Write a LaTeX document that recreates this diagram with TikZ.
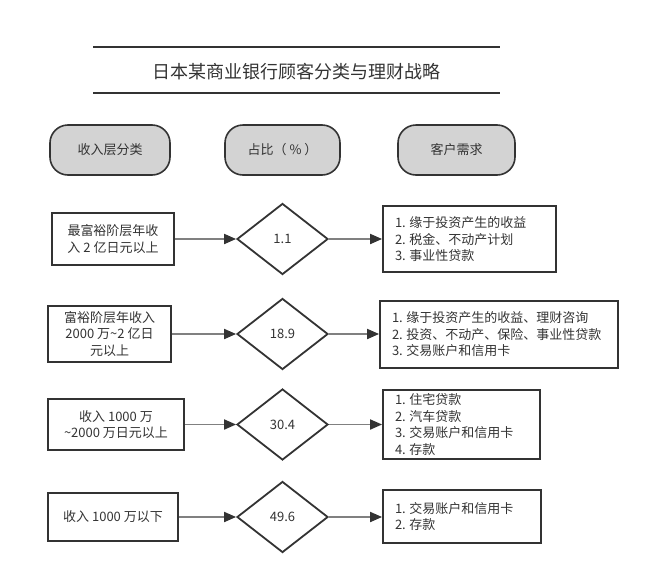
\documentclass[tikz,border=0pt]{standalone}
\usepackage{fontspec}
\setmainfont{Noto Sans CJK SC}
\usetikzlibrary{shapes.geometric,arrows.meta}
\definecolor{ink}{HTML}{333333}
\definecolor{pillfill}{HTML}{D3D3D3}
\definecolor{linkgray}{HTML}{808080}
\newcommand\itm[1]{#1.\hspace{3.5pt}}
\begin{document}
\begin{tikzpicture}[x=1pt,y=-1pt,
  every node/.style={text=ink, font=\fontsize{13}{16.5}\selectfont},
  pill/.style={draw=ink, line width=1.6pt, fill=pillfill, rounded corners=18pt,
    minimum height=50pt, inner sep=0pt},
  leftbox/.style={draw=ink, line width=1.8pt, align=center, inner sep=0pt},
  rightbox/.style={draw=ink, line width=1.8pt, align=left, inner xsep=12pt, inner ysep=0pt},
  ratio/.style={draw=ink, line width=1.8pt, shape=diamond, minimum width=91pt,
    minimum height=71pt, inner sep=0pt},
  link/.style={draw=linkgray, line width=1.8pt, -{Triangle[length=12pt,width=10pt,color=ink]}},
  rule/.style={draw=ink, line width=2pt}
]
\useasboundingbox (0,0) rectangle (648,584);

% title
\coordinate (t1a) at (93,47); \coordinate (t1b) at (500,47);
\coordinate (t2a) at (93,93); \coordinate (t2b) at (500,93);
\draw[rule] (t1a) -- (t1b);
\draw[rule] (t2a) -- (t2b);
\node[font=\fontsize{18}{22}\selectfont] (title) at (296,72) {日本某商业银行顾客分类与理财战略};

% headers
\node[pill, minimum width=120pt] (h1) at (110,150) {收入层分类};
\node[pill, minimum width=115pt] (h2) at (282.5,150) {占比（\hspace{3pt}\%\hspace{3pt}）};
\node[pill, minimum width=117pt] (h3) at (456.5,150) {客户需求};

% row 1
\node[leftbox, minimum width=122pt, minimum height=52pt] (l1) at (113,239)
  {最富裕阶层年收\\入 2 亿日元以上};
\node[ratio] (d1) at (282.5,239) {1.1};
\node[rightbox, text width=149pt, minimum height=66pt] (r1) at (469.5,239)
  {\fontsize{13}{17}\selectfont \itm1缘于投资产生的收益\\\itm2税金、不动产计划\\\itm3事业性贷款};

% row 2
\node[leftbox, minimum width=123pt, minimum height=56pt] (l2) at (109.5,334)
  {富裕阶层年收入\\2000 万\textasciitilde 2 亿日\\元以上};
\node[ratio] (d2) at (282.5,334) {18.9};
\node[rightbox, text width=214pt, minimum height=67pt] (r2) at (499,334.5)
  {\itm1缘于投资产生的收益、理财咨询\\\itm2投资、不动产、保险、事业性贷款\\\itm3交易账户和信用卡};

% row 3
\node[leftbox, minimum width=136pt, minimum height=51pt] (l3) at (116,424.5)
  {收入 1000 万\\\textasciitilde 2000 万日元以上};
\node[ratio] (d3) at (282.5,424.5) {30.4};
\node[rightbox, text width=133pt, minimum height=69pt] (r3) at (461.5,424.5)
  {\itm1住宅贷款\\\itm2汽车贷款\\\itm3交易账户和信用卡\\\itm4存款};

% row 4
\node[leftbox, minimum width=130pt, minimum height=48pt] (l4) at (113,517)
  {收入 1000 万以下};
\node[ratio] (d4) at (282.5,517) {49.6};
\node[rightbox, text width=134pt, minimum height=53pt] (r4) at (462,516.5)
  {\fontsize{13}{17.5}\selectfont \itm1交易账户和信用卡\\\itm2存款};

% connectors
\foreach \i in {1,2,3,4}{
  \draw[link] (l\i.east) -- (d\i.west);
  \draw[link] (d\i.east) -- (r\i.west |- d\i.east);
}
\end{tikzpicture}
\end{document}
